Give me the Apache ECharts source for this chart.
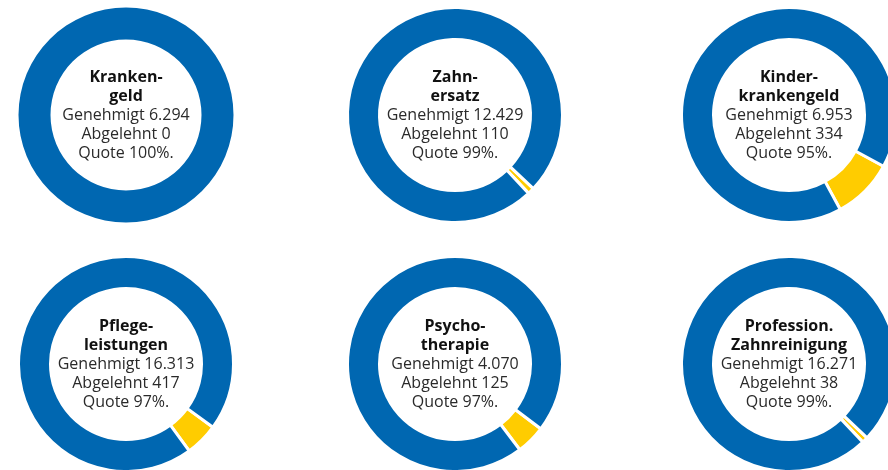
<!DOCTYPE html>
<html>
  <head>
    <meta charset="utf-8" />
    <title>Genehmigungsquoten</title>
    <script src="https://cdn.jsdelivr.net/npm/echarts@6/dist/echarts.min.js"></script>
  </head>
  <body style="margin:0;background:#fff;">
    <div id="main" style="width: 888px;height:470px;"></div>
    <script type="text/javascript">
// Leistungsbereiche (Titel mit Trennstrich wie im Original)
var categories = ['Kranken-\ngeld', 'Zahn-\nersatz', 'Kinder-\nkrankengeld',
                  'Pflege-\nleistungen', 'Psycho-\ntherapie', 'Profession.\nZahnreinigung'];
var approved = ['6.294', '12.429', '6.953', '16.313', '4.070', '16.271'];
var rejected = ['0', '110', '334', '417', '125', '38'];
var quote = ['100', '99', '95', '97', '97', '99'];
// Ringanteile so, wie sie im Bild gezeichnet sind (in %)
var ringRejected = [0, 1.0, 9.2, 5.0, 4.4, 0.9];
var ringApproved = [100, 99.0, 90.8, 95.0, 95.6, 99.1];

var centers = [[126, 115], [455, 115], [789, 115], [126, 364], [455, 364], [789, 364]];
var blue = '#0067b1', yellow = '#ffcc00';

var myChart = echarts.init(document.getElementById('main'));

var series = [], titles = [];
categories.forEach(function (name, i) {
  var deg = ringRejected[i] * 3.6;
  series.push({
    type: 'pie',
    center: centers[i],
    radius: [75.5, 107.5],
    startAngle: -45 + deg / 2,
    silent: true,
    label: { show: false },
    labelLine: { show: false },
    itemStyle: { borderColor: '#fff', borderWidth: ringRejected[i] > 0 ? 3 : 0 },
    data: [
      { name: 'Abgelehnt', value: ringRejected[i], itemStyle: { color: yellow } },
      { name: 'Genehmigt', value: ringApproved[i], itemStyle: { color: blue } }
    ]
  });
  titles.push({
    left: centers[i][0],
    top: centers[i][1],
    padding: 0,
    textAlign: 'center',
    textVerticalAlign: 'middle',
    text: '{b|' + name.replace('\n', '}\n{b|') + '}\n' +
          '{n|Genehmigt ' + approved[i] + '}\n' +
          '{n|Abgelehnt ' + rejected[i] + '}\n' +
          '{n|Quote ' + quote[i] + '%.}',
    textStyle: {
      fontWeight: 'normal',
      rich: {
        b: { fontFamily: 'Open Sans', fontWeight: 'bold', fontSize: 16, lineHeight: 19, color: '#111', align: 'center' },
        n: { fontFamily: 'Open Sans', fontWeight: 'normal', fontSize: 16, lineHeight: 19, color: '#2a2a2a', align: 'center' }
      }
    }
  });
});

myChart.setOption({
  animation: false,
  title: titles,
  series: series
});
    </script>
  </body>
</html>
